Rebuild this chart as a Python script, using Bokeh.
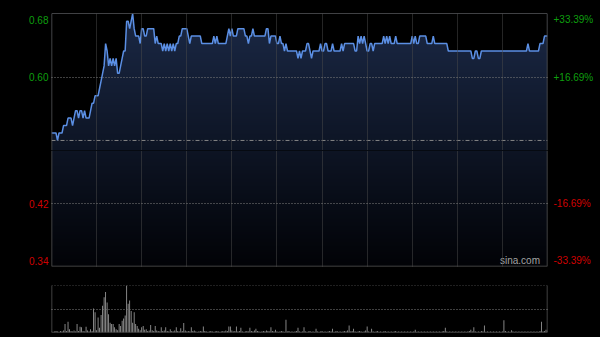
import numpy as np
from bokeh.plotting import figure
from bokeh.models import FixedTicker, LinearAxis, Span, Label, Range1d, Grid
from bokeh.layouts import column
from bokeh.embed import file_html
from bokeh.resources import INLINE

# ---------------- data ----------------
prev_close = 0.51
price = [
    0.52, 0.52, 0.52, 0.52, 0.51, 0.52, 0.52, 0.52, 0.53, 0.53,
    0.53, 0.54, 0.54, 0.54, 0.53, 0.54, 0.55, 0.55, 0.54, 0.55,
    0.55, 0.54, 0.55, 0.54, 0.54, 0.54, 0.55, 0.56, 0.56, 0.57,
    0.57, 0.57, 0.58, 0.59, 0.60, 0.61, 0.64, 0.63, 0.61, 0.62,
    0.61, 0.62, 0.61, 0.62, 0.60, 0.60, 0.61, 0.62, 0.63, 0.63,
    0.67, 0.67, 0.66, 0.67, 0.68, 0.66, 0.65, 0.65, 0.65, 0.64,
    0.66, 0.66, 0.65, 0.65, 0.66, 0.66, 0.66, 0.66, 0.66, 0.64,
    0.65, 0.64, 0.64, 0.64, 0.63, 0.64, 0.63, 0.64, 0.63, 0.64,
    0.63, 0.64, 0.63, 0.64, 0.64, 0.65, 0.65, 0.66, 0.66, 0.66,
    0.66, 0.65, 0.64, 0.65, 0.65, 0.65, 0.65, 0.65, 0.65, 0.65,
    0.64, 0.64, 0.64, 0.64, 0.64, 0.64, 0.64, 0.64, 0.65, 0.64,
    0.65, 0.64, 0.64, 0.64, 0.64, 0.64, 0.64, 0.65, 0.66, 0.65,
    0.66, 0.65, 0.65, 0.65, 0.66, 0.66, 0.66, 0.66, 0.66, 0.65,
    0.65, 0.64, 0.65, 0.65, 0.66, 0.65, 0.65, 0.65, 0.65, 0.65,
    0.65, 0.65, 0.65, 0.66, 0.66, 0.64, 0.65, 0.65, 0.65, 0.65,
    0.64, 0.64, 0.65, 0.64, 0.64, 0.63, 0.64, 0.63, 0.63, 0.63,
    0.63, 0.63, 0.63, 0.63, 0.62, 0.63, 0.62, 0.63, 0.63, 0.63,
    0.64, 0.64, 0.63, 0.62, 0.63, 0.63, 0.63, 0.63, 0.63, 0.64,
    0.63, 0.63, 0.64, 0.64, 0.63, 0.63, 0.63, 0.64, 0.63, 0.63,
    0.63, 0.63, 0.63, 0.64, 0.63, 0.64, 0.64, 0.64, 0.64, 0.64,
    0.64, 0.64, 0.63, 0.63, 0.65, 0.64, 0.65, 0.64, 0.65, 0.64,
    0.63, 0.63, 0.64, 0.64, 0.63, 0.64, 0.64, 0.64, 0.64, 0.64,
    0.64, 0.65, 0.64, 0.65, 0.64, 0.65, 0.64, 0.64, 0.64, 0.65,
    0.64, 0.64, 0.64, 0.64, 0.64, 0.64, 0.64, 0.64, 0.64, 0.64,
    0.65, 0.64, 0.65, 0.64, 0.64, 0.65, 0.65, 0.65, 0.65, 0.65,
    0.64, 0.64, 0.64, 0.64, 0.65, 0.64, 0.64, 0.64, 0.64, 0.64,
    0.64, 0.64, 0.64, 0.64, 0.63, 0.63, 0.63, 0.63, 0.63, 0.63,
    0.63, 0.63, 0.63, 0.63, 0.63, 0.63, 0.63, 0.63, 0.63, 0.63,
    0.62, 0.62, 0.63, 0.63, 0.62, 0.62, 0.63, 0.63, 0.63, 0.63,
    0.63, 0.63, 0.63, 0.63, 0.63, 0.63, 0.63, 0.63, 0.63, 0.63,
    0.63, 0.63, 0.63, 0.63, 0.63, 0.63, 0.63, 0.63, 0.63, 0.63,
    0.63, 0.63, 0.63, 0.63, 0.63, 0.63, 0.63, 0.64, 0.63, 0.63,
    0.63, 0.63, 0.63, 0.63, 0.63, 0.64, 0.64, 0.64, 0.65, 0.65,
    0.65,
]
volume = [
    2, 1, 2, 3, 2, 1, 3, 2, 4, 18,
    3, 23, 7, 3, 2, 4, 2, 18, 3, 12,
    11, 3, 2, 12, 4, 2, 7, 3, 51, 43,
    5, 32, 10, 37, 57, 75, 86, 64, 39, 21,
    18, 18, 11, 7, 5, 18, 14, 25, 30, 36,
    100, 61, 68, 46, 21, 43, 18, 14, 8, 5,
    11, 14, 6, 7, 3, 4, 16, 5, 3, 14,
    4, 3, 2, 11, 3, 4, 11, 3, 2, 7,
    3, 2, 4, 11, 3, 2, 9, 3, 20, 4,
    2, 3, 2, 11, 3, 4, 2, 1, 2, 3,
    2, 13, 3, 2, 1, 2, 3, 2, 1, 2,
    3, 2, 1, 2, 3, 2, 4, 3, 13, 13,
    4, 2, 3, 13, 2, 3, 10, 2, 1, 2,
    3, 2, 10, 3, 2, 4, 8, 3, 2, 1,
    2, 3, 2, 4, 3, 2, 11, 3, 2, 6,
    2, 1, 2, 3, 2, 1, 27, 2, 3, 1,
    2, 1, 2, 3, 10, 2, 1, 2, 11, 2,
    1, 2, 3, 1, 2, 1, 8, 2, 1, 2,
    3, 1, 2, 1, 2, 3, 2, 8, 1, 2,
    3, 1, 2, 1, 2, 3, 2, 4, 15, 2,
    3, 8, 2, 1, 2, 3, 2, 1, 2, 4,
    13, 2, 1, 8, 2, 1, 2, 3, 1, 2,
    1, 2, 3, 1, 2, 1, 2, 1, 2, 3,
    1, 2, 1, 2, 1, 2, 1, 2, 1, 2,
    1, 2, 6, 1, 2, 1, 2, 1, 2, 1,
    2, 1, 2, 1, 2, 1, 2, 1, 2, 1,
    2, 3, 10, 2, 1, 2, 1, 2, 1, 2,
    1, 2, 1, 2, 1, 2, 1, 2, 3, 6,
    2, 11, 2, 1, 2, 1, 3, 2, 15, 1,
    2, 1, 2, 1, 2, 1, 2, 1, 2, 1,
    2, 26, 3, 1, 2, 1, 5, 2, 1, 2,
    1, 2, 1, 2, 1, 2, 1, 2, 1, 2,
    1, 2, 1, 2, 1, 3, 23, 2, 3, 6,
    4,
]
price_tick_labels = ["0.68", "0.60", "0.42", "0.34"]
pct_tick_labels = ["+33.39%", "+16.69%", "-16.69%", "-33.39%"]
pct_levels = [0.3339, 0.1669, -0.1669, -0.3339]
session_gridlines = [30, 60, 90, 120, 150, 180, 210, 240, 270, 300]

# ---------------- geometry / style ----------------
minutes = np.arange(len(price))
price_arr = np.array(price)
n_min = len(price) - 1
y_hi = prev_close * (1 + pct_levels[0])
y_lo = prev_close * (1 + pct_levels[3])
tick_vals = [prev_close * (1 + v) for v in pct_levels]
FRAME_PX = 253
pxu = FRAME_PX / (y_hi - y_lo)
inset = 6 / pxu
split = prev_close - 10 / pxu

GREEN = "#0e9e0e"
RED = "#d00000"
FONT = "Liberation Sans"
LINE = "#5b8fe4"
BORDER = "#565656"
DOT = "#808080"

# vertical gradient (styling) for the area under the line
N = 253
img = np.zeros((N, 2), dtype=np.uint32)
view = img.view(dtype=np.uint8).reshape((N, 2, 4))
bot_c = np.array([2, 3, 7])
top_c = np.array([27, 41, 70])
for r in range(N):
    t = r / (N - 1)
    c = bot_c + (top_c - bot_c) * t
    view[r, :, 0] = int(c[0])
    view[r, :, 1] = int(c[1])
    view[r, :, 2] = int(c[2])
    view[r, :, 3] = 255


def make_axis(ticks, labels, color, standoff):
    ax = LinearAxis(
        ticker=FixedTicker(ticks=ticks),
        major_label_overrides={t: l for t, l in zip(ticks, labels)},
        major_label_text_color=color,
        major_label_text_font=FONT,
        major_label_text_font_size="10px",
        major_tick_in=0, major_tick_out=0,
        minor_tick_in=0, minor_tick_out=0,
        axis_line_color=None,
        major_label_standoff=standoff,
    )
    return ax


def price_fig(h, y0, y1, top, bottom):
    p = figure(width=600, height=h, title=None,
               x_range=Range1d(0, n_min), y_range=Range1d(y0, y1),
               output_backend="svg", toolbar_location=None,
               x_axis_location=None, y_axis_location=None,
               min_border_left=51, min_border_right=53,
               min_border_top=top, min_border_bottom=bottom,
               background_fill_color="black", border_fill_color="black",
               outline_line_color=None)
    p.xgrid.grid_line_color = None
    p.ygrid.grid_line_color = None
    p.image_rgba(image=[img], x=0, y=y_lo, dw=n_min, dh=y_hi - y_lo)
    p.varea(x=minutes, y1=price_arr, y2=y_hi, fill_color="black")
    p.add_layout(Grid(dimension=0, ticker=FixedTicker(ticks=session_gridlines),
                      grid_line_color="#4a4a4a", grid_line_dash="1 1", level="overlay"))
    p.add_layout(Grid(dimension=1, ticker=FixedTicker(ticks=[tick_vals[1], tick_vals[2]]),
                      grid_line_color=DOT, grid_line_dash="1 2", level="overlay"))
    p.line(minutes, price_arr, line_color=LINE, line_width=1.5)
    p.add_layout(Span(location=0, dimension="height", line_color=BORDER, line_width=1.5))
    p.add_layout(Span(location=n_min, dimension="height", line_color=BORDER, line_width=1.5))
    return p


# upper part (green labels)
p_top = price_fig(150, split, y_hi, 13, 0)
top_ticks = [y_hi - inset, tick_vals[1]]
p_top.add_layout(make_axis(top_ticks, price_tick_labels[:2], GREEN, 3), "left")
p_top.add_layout(make_axis(top_ticks, pct_tick_labels[:2], GREEN, 6), "right")
p_top.add_layout(Span(location=y_hi, dimension="width", line_color="#7c7c7c", line_width=1.2))
p_top.add_layout(Span(location=prev_close, dimension="width", line_color="#858585",
                      line_width=1, line_dash="4 2 1 2"))

# lower part (red labels)
p_bot = price_fig(122, y_lo, split, 0, 6)
bot_ticks = [tick_vals[2], y_lo + inset]
p_bot.add_layout(make_axis(bot_ticks, price_tick_labels[2:], RED, 3), "left")
p_bot.add_layout(make_axis(bot_ticks, pct_tick_labels[2:], RED, 6), "right")
p_bot.add_layout(Span(location=y_lo, dimension="width", line_color=BORDER, line_width=1.5))
p_bot.add_layout(Label(x=325, y=y_lo, text="sina.com", text_align="right",
                       text_baseline="bottom", y_offset=1, text_color="#a3a3a3",
                       text_font=FONT, text_font_size="10px"))

# volume panel
p_vol = figure(width=600, height=65, title=None,
               x_range=Range1d(0, n_min), y_range=Range1d(0, 100),
               output_backend="svg", toolbar_location=None,
               x_axis_location=None, y_axis_location=None,
               min_border_left=51, min_border_right=53,
               min_border_top=13, min_border_bottom=5,
               background_fill_color="black", border_fill_color="black",
               outline_line_color=None)
p_vol.xgrid.grid_line_color = None
p_vol.ygrid.grid_line_color = None
p_vol.vbar(x=minutes, top=volume, width=0.55, fill_color="#a0a0a0", line_color=None)
p_vol.add_layout(Grid(dimension=1, ticker=FixedTicker(ticks=[50]),
                      grid_line_color=DOT, grid_line_dash="1 2", level="overlay"))
p_vol.add_layout(Span(location=100, dimension="width", line_color=DOT, line_dash="1 2"))
p_vol.add_layout(Span(location=0, dimension="width", line_color=BORDER, line_width=1.5))
p_vol.add_layout(Span(location=0, dimension="height", line_color=BORDER, line_width=1.5))
p_vol.add_layout(Span(location=n_min, dimension="height", line_color=BORDER, line_width=1.5))

layout = column(p_top, p_bot, p_vol, spacing=0, styles={"background-color": "black"})

open("out.html", "w").write(file_html(layout, INLINE))
